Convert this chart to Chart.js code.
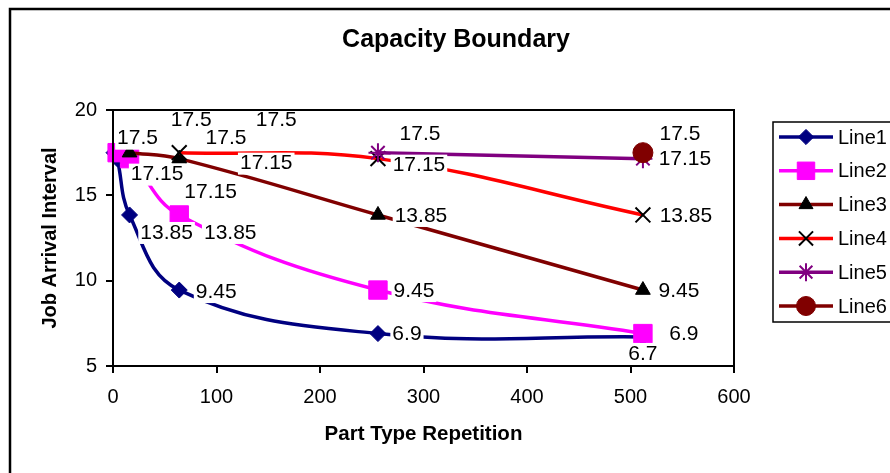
<!DOCTYPE html>
<html>
<head>
<meta charset="utf-8">
<script src="https://cdn.jsdelivr.net/npm/chart.js"></script>
<style>
body { margin: 0; background: #fff; }
canvas { display: block; }
</style>
</head>
<body>
<canvas id="myChart" width="890" height="473"></canvas>
<script>
// part type repetitions used on the x axis; each line takes the tail of this list
var repetitions = [1, 4, 16, 64, 256, 512];
var line1 = [17.5, 17.15, 13.85, 9.45, 6.9, 6.7];
var line2 = [17.5, 17.15, 13.85, 9.45, 6.9];
var line3 = [17.5, 17.15, 13.85, 9.45];
var line4 = [17.5, 17.15, 13.85];
var line5 = [17.5, 17.15];
var line6 = [17.5];
var seriesNames = ['Line1', 'Line2', 'Line3', 'Line4', 'Line5', 'Line6'];

var FONT = '"Liberation Sans", Arial, sans-serif';

// look of each series (line colour, marker)
var looks = [
    { line: '#000080', style: 'rectRot', radius: 8, fill: '#000080', stroke: '#000080' },
    { line: '#FF00FF', style: 'rect', radius: 13, fill: '#FF00FF', stroke: '#FF00FF' },
    { line: '#800000', style: 'triangle', radius: 8.5, fill: '#000000', stroke: '#000000' },
    { line: '#FF0000', style: 'crossRot', radius: 10.5, fill: '#000000', stroke: '#000000' },
    { line: '#800080', style: 'star', radius: 9.5, fill: '#800080', stroke: '#800080' },
    { line: '#800000', style: 'circle', radius: 10, fill: '#800000', stroke: '#800000' }
];

// where each value label sits relative to its point (dx, dy in px)
var labelNudge = [
    [[112, -15], [40, 15], [37, 17], [37, 1], [29, 0], [0, 16]],
    [[74, -33], [81, 33], [51, 17], [36, 0], [41, 0]],
    [[8, -15], [87, 4], [43, 0], [36, 0]],
    [[97, -33], [41, 6], [43, 0]],
    [[42, -19], [42, 0]],
    [[37, -19]]
];

var allLines = [line1, line2, line3, line4, line5, line6];

var datasets = allLines.map(function (vals, i) {
    var xs = repetitions.slice(repetitions.length - vals.length);
    var lk = looks[i];
    return {
        label: seriesNames[i],
        data: vals.map(function (v, j) { return { x: xs[j], y: v }; }),
        borderColor: lk.line,
        backgroundColor: lk.fill,
        borderWidth: 3.5,
        tension: 0.4,
        pointStyle: lk.style,
        pointRadius: lk.radius,
        pointBackgroundColor: lk.fill,
        pointBorderColor: lk.stroke,
        pointBorderWidth: (lk.style === 'crossRot' || lk.style === 'star') ? 2 : 1,
        clip: false,
        order: 6 - i
    };
});

function drawPlotFrame(chart) {
    var a = chart.chartArea, ctx = chart.ctx;
    ctx.save();
    ctx.strokeStyle = '#000';
    ctx.lineWidth = 2;
    ctx.strokeRect(a.left, a.top, a.right - a.left, a.bottom - a.top);
    ctx.restore();
}

var framePlugin = {
    id: 'frame',
    beforeDraw: function (chart) {
        var ctx = chart.ctx;
        ctx.save();
        ctx.fillStyle = '#fff';
        ctx.fillRect(0, 0, chart.width, chart.height);
        ctx.strokeStyle = '#000';
        ctx.lineWidth = 2.5;
        ctx.strokeRect(10, 9, 900, 500);
        ctx.fillStyle = '#000';
        ctx.font = 'bold 25px ' + FONT;
        ctx.textAlign = 'center';
        ctx.textBaseline = 'middle';
        ctx.fillText('Capacity Boundary', 456, 40);
        ctx.restore();
    },
    beforeDatasetsDraw: drawPlotFrame
};

var labelPlugin = {
    id: 'valueLabels',
    afterDatasetsDraw: function (chart) {
        var ctx = chart.ctx;
        var items = [];
        ctx.save();
        ctx.font = '21px ' + FONT;
        ctx.textAlign = 'center';
        ctx.textBaseline = 'middle';
        chart.data.datasets.forEach(function (ds, i) {
            var meta = chart.getDatasetMeta(i);
            meta.data.forEach(function (pt, j) {
                var n = labelNudge[i][j];
                items.push({ txt: String(ds.data[j].y), x: pt.x + n[0], y: pt.y + n[1] });
            });
        });
        // white boxes first, then all the text on top
        ctx.fillStyle = '#fff';
        items.forEach(function (it) {
            var w = ctx.measureText(it.txt).width;
            ctx.fillRect(it.x - w / 2 - 2, it.y - 10, w + 4, 22);
        });
        ctx.fillStyle = '#000';
        items.forEach(function (it) {
            ctx.fillText(it.txt, it.x, it.y + 1);
        });
        ctx.restore();
        // labels never cover the plot frame
        drawPlotFrame(chart);
    }
};

var legendPlugin = {
    id: 'boxLegend',
    afterDraw: function (chart) {
        var ctx = chart.ctx;
        ctx.save();
        ctx.strokeStyle = '#000';
        ctx.lineWidth = 1.5;
        ctx.strokeRect(773, 122, 140, 200);
        ctx.font = '20px ' + FONT;
        ctx.textAlign = 'left';
        ctx.textBaseline = 'middle';
        seriesNames.forEach(function (name, i) {
            var lk = looks[i];
            var y = 137 + i * 33.8;
            ctx.strokeStyle = lk.line;
            ctx.lineWidth = 3.5;
            ctx.beginPath();
            ctx.moveTo(779, y);
            ctx.lineTo(833, y);
            ctx.stroke();
            ctx.fillStyle = lk.fill;
            ctx.strokeStyle = lk.stroke;
            ctx.lineWidth = (lk.style === 'crossRot' || lk.style === 'star') ? 2 : 1;
            Chart.helpers.drawPoint(ctx, { pointStyle: lk.style, radius: lk.radius * 0.95, rotation: 0, borderWidth: ctx.lineWidth }, 806, y);
            ctx.fillStyle = '#000';
            ctx.fillText(name, 838, y + 1);
        });
        ctx.restore();
    }
};

Chart.defaults.font.family = FONT;
Chart.defaults.color = '#000';

var ctx = document.getElementById('myChart').getContext('2d');
var myChart = new Chart(ctx, {
    type: 'line',
    data: { datasets: datasets },
    options: {
        responsive: false,
        animation: false,
        events: [],
        layout: { padding: { left: 0, top: 110, right: 156, bottom: 0 } },
        plugins: {
            legend: { display: false },
            tooltip: { enabled: false }
        },
        scales: {
            x: {
                type: 'linear',
                min: 0,
                max: 600,
                ticks: { stepSize: 100, font: { size: 20 }, padding: 12, color: '#000' },
                grid: { drawOnChartArea: false, drawTicks: true, tickLength: 7, color: '#000', lineWidth: 2 },
                border: { display: true, color: '#000', width: 2 },
                title: { display: true, text: 'Part Type Repetition', font: { size: 20.5, weight: 'bold' }, padding: { top: 0, bottom: 26 }, color: '#000' },
                afterFit: function (scale) { scale.height = 107; }
            },
            y: {
                min: 5,
                max: 20,
                ticks: { stepSize: 5, font: { size: 20 }, padding: 9, color: '#000' },
                grid: { drawOnChartArea: false, drawTicks: true, tickLength: 7, color: '#000', lineWidth: 2 },
                border: { display: true, color: '#000', width: 2 },
                title: { display: true, text: 'Job Arrival Interval', font: { size: 20, weight: 'bold' }, padding: { top: 38, bottom: 0 }, color: '#000' },
                afterFit: function (scale) { scale.width = 113; }
            }
        }
    },
    plugins: [framePlugin, labelPlugin, legendPlugin]
});
</script>
</body>
</html>
